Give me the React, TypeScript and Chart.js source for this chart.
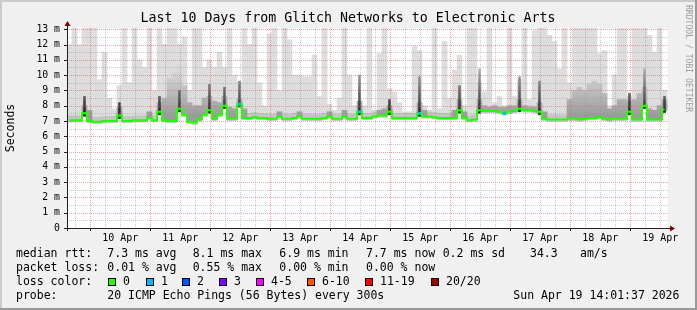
import React, { useEffect, useRef } from 'react';
import { Chart, registerables } from 'chart.js';

Chart.register(...registerables);

// time axis: hours since Apr 9 00:00
const startHour = 14.68;
const endHour = 255.08;
const binHours = 2;

const medianRtt = [
  7.05, 7.05, 7.05, 7.5, 7.0, 6.95, 6.95, 7.0, 7.0, 7.0, 7.35, 7.0, 7.0, 7.05, 7.05, 7.05, 7.2, 7.05, 7.6, 7.05,
  7.0, 7.0, 7.8, 7.4, 6.95, 6.9, 7.1, 7.4, 7.7, 7.15, 7.4, 8.0, 7.15, 7.15, 8.1, 7.2, 7.2, 7.25, 7.2, 7.2,
  7.15, 7.15, 7.3, 7.15, 7.15, 7.2, 7.3, 7.15, 7.15, 7.15, 7.15, 7.2, 7.3, 7.15, 7.15, 7.3, 7.15, 7.15, 7.6, 7.2,
  7.2, 7.3, 7.35, 7.35, 7.6, 7.2, 7.2, 7.2, 7.2, 7.2, 7.5, 7.3, 7.3, 7.25, 7.2, 7.2, 7.2, 7.2, 7.7, 7.2,
  7.05, 7.1, 7.7, 7.65, 7.65, 7.65, 7.6, 7.5, 7.6, 7.65, 7.8, 7.7, 7.7, 7.65, 7.6, 7.15, 7.1, 7.1, 7.1, 7.1,
  7.15, 7.15, 7.1, 7.15, 7.2, 7.2, 7.25, 7.15, 7.1, 7.15, 7.15, 7.15, 7.6, 7.1, 7.1, 8.0, 7.1, 7.1, 7.1, 7.75,
];

const smokeTop = [
  12, 13.2, 12, 13.2, 13.2, 13.2, 9.7, 11.5, 8.5, 7.8, 9.3, 13.2, 9.5, 13.2, 11, 10.5, 13.2, 9, 13.2, 12,
  13.2, 13.2, 12, 12.5, 9, 13.2, 13.2, 10.5, 11, 10.5, 11.5, 10.5, 13.2, 10, 9.5, 13.2, 12, 13.2, 9.5, 8,
  12.7, 13.2, 9, 13.2, 12.3, 10, 10, 9.9, 9.9, 11.3, 8.6, 13.2, 8.1, 7.7, 8.5, 13.2, 10, 8.0, 8, 8,
  13.2, 7.7, 11.4, 13.2, 9.1, 8.9, 8.2, 7.6, 7.6, 11.9, 11.6, 8, 7.7, 13.2, 7.8, 12.2, 8.5, 10.3, 11.3, 8,
  13.2, 13.2, 9.5, 8.9, 13.2, 8.2, 8.6, 8, 13.2, 8.6, 9.7, 13.2, 8.4, 12.9, 13.2, 13.2, 12.6, 12.2, 10.4, 13.2,
  9.5, 13.2, 13.2, 13.2, 13.2, 13.2, 11.4, 11.6, 8, 10, 13.2, 13.2, 8.6, 13.2, 13.2, 13.2, 12.6, 11.5, 13.2, 9,
];

const smokeMid = [
  null, null, null, 8.0, 7.7, null, null, null, null, null, 7.9, null, null, null, null, null, 7.6, null, 8.2, 8.5,
  9.8, 10.2, 10.5, 9.3, 8.2, 8.0, 8.0, 8.5, 8.6, 8.3, 8.2, 8.6, 7.9, 7.8, 8.4, 7.8, null, null, null, null,
  null, null, 7.6, null, null, null, 7.6, null, null, null, null, null, 7.6, null, null, 7.7, null, null, 8.3, null,
  null, null, 7.7, 7.8, 8.0, null, null, null, null, null, 8.2, 7.7, null, null, null, null, null, 7.7, 8.4, 7.6,
  null, null, 8.4, 8.0, 7.9, 8.0, 7.9, 7.9, 8.0, 8.0, 8.4, 8.0, 7.9, 7.9, 8.2, 7.6, null, null, null, null,
  8.4, 9.0, 9.2, 9.0, 9.4, 9.6, 9.4, 8.8, 7.8, 8.0, 8.4, 8.4, 8.3, 8.4, 8.8, 9.2, 7.8, 7.7, 8.0, 8.4,
];

const spikeBins = [3, 10, 18, 22, 28, 31, 34, 58, 64, 70, 78, 82, 90, 94, 112, 115, 119];
const spikeTops = [8.6, 8.2, 8.6, 9.0, 9.4, 9.2, 9.6, 10.0, 8.4, 9.9, 9.3, 10.4, 9.9, 9.6, 8.8, 10.4, 8.6];

const lossOneBins = [34, 58, 70, 87];
const lossOneRtt = [8.1, 7.6, 7.5, 7.5];

const dayTicks = [36, 60, 84, 108, 132, 156, 180, 204, 228, 252];
const dayLabels = ['10 Apr', '11 Apr', '12 Apr', '13 Apr', '14 Apr', '15 Apr', '16 Apr', '17 Apr', '18 Apr', '19 Apr'];
const yTicks = [0, 1, 2, 3, 4, 5, 6, 7, 8, 9, 10, 11, 12, 13];

const titleText = 'Last 10 Days from Glitch Networks to Electronic Arts';
const rttStats = ['7.3 ms avg', '8.1 ms max', '6.9 ms min', '7.7 ms now', '0.2 ms sd', '34.3', 'am/s'];
const lossStats = ['0.01 % avg', '0.55 % max', '0.00 % min', '0.00 % now'];
const lossColorLabels = ['0', '1', '2', '3', '4-5', '6-10', '11-19', '20/20'];
const lossColors = ['#26ff00', '#00b8ff', '#0059ff', '#7e00ff', '#ff00ff', '#ff5500', '#ff0000', '#a10000'];
const probeText = '20 ICMP Echo Pings (56 Bytes) every 300s';
const dateText = 'Sun Apr 19 14:01:37 2026';

const binX = (i: number) => startHour + (i + 0.5) * binHours;
const MONO = '"DejaVu Sans Mono", monospace';

const gridPlugin = {
  id: 'rrdGrid',
  beforeDatasetDraw(chart: any, args: any) {
    if (args.index !== 1) return;
    const { ctx, chartArea: a, scales } = chart;
    const x = scales.x;
    const y = scales.y;
    ctx.save();
    ctx.lineWidth = 1;
    ctx.setLineDash([1, 1]);
    const hline = (v: number) => {
      const py = Math.round(y.getPixelForValue(v)) + 0.5;
      ctx.beginPath();
      ctx.moveTo(a.left, py);
      ctx.lineTo(a.right, py);
      ctx.stroke();
    };
    const vline = (h: number) => {
      const px = Math.round(x.getPixelForValue(h)) + 0.5;
      ctx.beginPath();
      ctx.moveTo(px, a.top);
      ctx.lineTo(px, a.bottom);
      ctx.stroke();
    };
    ctx.strokeStyle = 'rgba(150,150,150,0.5)';
    for (let v = 0.5; v < 13; v += 1) hline(v);
    for (let h = 18; h < endHour; h += 6) if (h % 24 !== 0) vline(h);
    ctx.strokeStyle = 'rgba(230,90,90,0.55)';
    for (let v = 1; v <= 13; v += 1) hline(v);
    for (let h = 24; h < endHour; h += 24) vline(h);
    ctx.restore();
  },
};

const framePlugin = {
  id: 'rrdFrame',
  beforeDraw(chart: any) {
    const { ctx, width, height, chartArea: a } = chart;
    ctx.save();
    ctx.fillStyle = '#f0f0f0';
    ctx.fillRect(0, 0, width, height);
    ctx.fillStyle = '#cbcbcb';
    ctx.fillRect(0, 0, width, 2);
    ctx.fillRect(0, 0, 2, height);
    ctx.fillStyle = '#999999';
    ctx.fillRect(0, height - 2, width, 2);
    ctx.fillRect(width - 2, 0, 2, height);
    ctx.fillStyle = '#ffffff';
    ctx.fillRect(a.left, a.top, a.right - a.left, a.bottom - a.top);
    ctx.restore();
  },
  afterDraw(chart: any) {
    const { ctx, chartArea: a, scales } = chart;
    const x = scales.x;
    const y = scales.y;
    ctx.save();
    ctx.strokeStyle = '#202020';
    ctx.lineWidth = 1;
    ctx.beginPath();
    ctx.moveTo(a.left - 3, a.bottom + 0.5);
    ctx.lineTo(a.right + 4, a.bottom + 0.5);
    ctx.moveTo(a.left + 0.5, a.bottom + 3);
    ctx.lineTo(a.left + 0.5, a.top - 3);
    for (const v of yTicks) {
      const py = Math.round(y.getPixelForValue(v)) + 0.5;
      ctx.moveTo(a.left - 3, py);
      ctx.lineTo(a.left, py);
    }
    for (let h = 24; h < endHour; h += 24) {
      const px = Math.round(x.getPixelForValue(h)) + 0.5;
      ctx.moveTo(px, a.bottom);
      ctx.lineTo(px, a.bottom + 3);
    }
    ctx.stroke();
    ctx.fillStyle = '#7f0000';
    ctx.beginPath();
    ctx.moveTo(a.left + 0.5, a.top - 7);
    ctx.lineTo(a.left - 2.5, a.top - 2);
    ctx.lineTo(a.left + 3.5, a.top - 2);
    ctx.closePath();
    ctx.fill();
    ctx.beginPath();
    ctx.moveTo(a.right + 7, a.bottom + 0.5);
    ctx.lineTo(a.right + 2, a.bottom - 2.5);
    ctx.lineTo(a.right + 2, a.bottom + 3.5);
    ctx.closePath();
    ctx.fill();

    ctx.fillStyle = '#000';
    ctx.textBaseline = 'middle';
    ctx.textAlign = 'center';
    ctx.font = `13.25px ${MONO}`;
    ctx.fillText(titleText, 348, 19);

    ctx.save();
    ctx.font = `11.5px ${MONO}`;
    ctx.translate(11, 128);
    ctx.rotate(-Math.PI / 2);
    ctx.fillText('Seconds', 0, 0);
    ctx.restore();

    ctx.save();
    ctx.fillStyle = '#9c9c9c';
    ctx.font = `8.1px ${MONO}`;
    ctx.textAlign = 'left';
    ctx.translate(688, 5);
    ctx.rotate(Math.PI / 2);
    ctx.fillText('RRDTOOL / TOBI OETIKER', 0, 0);
    ctx.restore();

    ctx.textAlign = 'left';
    ctx.font = `11.5px ${MONO}`;
    const statX = [107.3, 192.7, 279.3, 366, 442.7, 530, 580];
    ctx.fillText('median rtt:', 16, 254);
    rttStats.forEach((t, i) => ctx.fillText(t, statX[i], 254));
    ctx.fillText('packet loss:', 16, 268);
    lossStats.forEach((t, i) => ctx.fillText(t, statX[i], 268));
    ctx.fillText('loss color:', 16, 282);
    const boxX = [108, 146, 182, 219, 256, 307, 365, 431];
    lossColorLabels.forEach((t, i) => {
      ctx.fillStyle = lossColors[i];
      ctx.fillRect(boxX[i], 278, 8, 8);
      ctx.strokeStyle = '#000';
      ctx.strokeRect(boxX[i] + 0.5, 278.5, 7, 7);
      ctx.fillStyle = '#000';
      ctx.fillText(t, boxX[i] + 15, 282);
    });
    ctx.fillText('probe:', 16, 296);
    ctx.fillText(probeText, 107.3, 296);
    ctx.fillText(dateText, 513.3, 296);
    ctx.restore();
  },
};

export default function App() {
  const ref = useRef<HTMLCanvasElement>(null);
  useEffect(() => {
    document.body.style.margin = '0';
    const gradient = (c: any, lo: number, hi: number, c0: string, c1: string) => {
      const chart = c.chart;
      const area = chart.chartArea;
      if (!area) return c1;
      const y = chart.scales.y;
      const g = chart.ctx.createLinearGradient(0, y.getPixelForValue(lo), 0, y.getPixelForValue(hi));
      g.addColorStop(0, c0);
      g.addColorStop(1, c1);
      return g;
    };

    const lightData = smokeTop.map((v, i) => ({ x: binX(i), y: [medianRtt[i] - 0.1, v] }));
    const baseData = medianRtt.map((v, i) => ({ x: binX(i), y: [v - 0.12, v + 0.3] }));
    const midData = smokeMid
      .map((v, i) => (v === null ? null : { x: binX(i), y: [medianRtt[i], v] }))
      .filter((d) => d !== null);
    const spikeData = spikeBins.map((b, i) => ({ x: binX(b), y: [medianRtt[b] - 0.2, spikeTops[i]] }));
    const lineData = medianRtt.map((v, i) => ({ x: binX(i), y: v }));
    const lossData = lossOneBins.map((b, i) => ({ x: binX(b), y: lossOneRtt[i] }));

    const chart = new Chart(ref.current as HTMLCanvasElement, {
      type: 'bar',
      data: {
        datasets: [
          {
            type: 'scatter',
            data: lossData,
            order: 0,
            pointStyle: 'rect',
            pointRadius: 2,
            backgroundColor: '#00b8ff',
            borderColor: '#00b8ff',
            borderWidth: 0,
          } as any,
          {
            type: 'line',
            data: lineData,
            order: 1,
            borderColor: '#22ff00',
            borderWidth: 2,
            pointRadius: 0,
            stepped: 'middle',
            fill: false,
          } as any,
          {
            data: spikeData,
            order: 2,
            grouped: false,
            barThickness: 2,
            backgroundColor: (c: any) => gradient(c, 7.3, 10.4, '#1a1a1a', '#b0b0b0'),
            borderWidth: 0,
          } as any,
          {
            data: midData,
            order: 3,
            grouped: false,
            barPercentage: 1,
            categoryPercentage: 1,
            backgroundColor: (c: any) => gradient(c, 7.3, 10.3, '#9a9a9a', '#d8d8d8'),
            borderWidth: 0,
          } as any,
          {
            data: baseData,
            order: 4,
            grouped: false,
            barPercentage: 1,
            categoryPercentage: 1,
            backgroundColor: '#c4c4c4',
            borderWidth: 0,
          } as any,
          {
            data: lightData,
            order: 5,
            grouped: false,
            barPercentage: 1,
            categoryPercentage: 1,
            backgroundColor: '#dddddd',
            borderWidth: 0,
          } as any,
        ],
      },
      options: {
        responsive: false,
        animation: false,
        layout: { padding: { top: 28, right: 29, left: 0, bottom: 0 } },
        plugins: { legend: { display: false }, tooltip: { enabled: false }, title: { display: false } },
        scales: {
          x: {
            type: 'linear',
            min: startHour,
            max: endHour,
            offset: false,
            grid: { display: false, drawTicks: false },
            border: { display: false },
            afterBuildTicks: (s: any) => {
              s.ticks = dayTicks.map((v) => ({ value: v }));
            },
            afterFit: (s: any) => {
              s.height = 82;
            },
            ticks: {
              autoSkip: false,
              maxRotation: 0,
              padding: 4,
              color: '#000',
              font: { family: MONO, size: 10 },
              callback: (_v: any, i: number) => dayLabels[i],
            },
          },
          y: {
            type: 'linear',
            min: 0,
            max: 13.08,
            grid: { display: false, drawTicks: false },
            border: { display: false },
            afterBuildTicks: (s: any) => {
              s.ticks = yTicks.map((v) => ({ value: v }));
            },
            afterFit: (s: any) => {
              s.width = 67;
            },
            ticks: {
              padding: 7,
              color: '#000',
              font: { family: MONO, size: 9.8 },
              callback: (v: any) => (v === 0 ? '0' : `${v} m`),
            },
          },
        },
      },
      plugins: [framePlugin, gridPlugin],
    });
    return () => chart.destroy();
  }, []);
  return (
    <div style={{ width: 697, height: 310 }}>
      <canvas ref={ref} width={697} height={310} style={{ display: 'block' }} />
    </div>
  );
}
